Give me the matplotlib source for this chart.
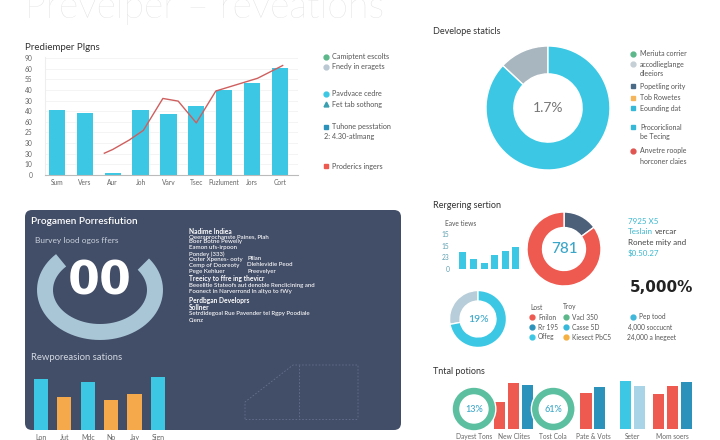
import matplotlib
matplotlib.use('Agg')
import matplotlib.pyplot as plt
import numpy as np
from matplotlib.patches import FancyBboxPatch

plt.rcParams['font.family'] = ['Lato', 'DejaVu Sans']

# ---- data ----
title_main = 'Prevelper \u2013 reveations'

c1_cats = ['Sum', 'Vers', 'Aur', 'Joh', 'Varv', 'Tsec', 'Puzlument', 'Jors', 'Cort']
c1_bars = [61, 58, 1.5, 61, 57, 65, 79.5, 87, 100.5]
c1_line_x = [1.7, 2.0, 2.6, 3.1, 3.8, 4.35, 5.0, 5.7, 7.2, 8.1]
c1_line_y = [20.5, 24, 33, 42, 72, 69.5, 49, 79, 91, 103]
c1_yticks = [0, 10, 20, 30, 40, 50, 60, 70, 80, 90, 100, 110]
c1_ylabels = ['0', '10', '30', '30', '25', '60', '40', '30', '40', '55', '60', '90']

dev_vals = [13, 87]
dev_label = '1.7%'

gauge_label = '00'
gauge_span = (38, 135)  # open gap at the top, degrees
prog_cats = ['Lon', 'Jut', 'Mdc', 'No', 'Jay', 'Sign']
prog_vals = [51, 33, 48, 30, 36, 53]

eave_vals = [14.5, 8.5, 5, 12, 15.5, 19]
eave_ticks = [0, 10, 20, 30]
eave_labels = ['0', '23', '15', '15']

reg_vals = [15, 85]
reg_label = '781'
small_vals = [28, 72]
small_label = '19%'

tp_cats = ['Dayest Tons', 'New Clites', 'Tost Cola', 'Pate & Vots', 'Seter', 'Mom soers']
tp_donut_idx = [0, 2]
tp_donut_labels = ['13%', '61%']
tp_bar_idx = [1, 3, 4, 5]
tp_bar_vals = [[27, 46, 44], [36, 42], [48, 43], [35, 43, 47]]

# ---- colours ----
CYAN = '#3cc8e4'
ORANGE = '#f6a94a'
RED = '#ee5a50'
TEAL = '#2b93bb'
LIGHTB = '#a9d3e6'
GREEN = '#5cbf9f'
SLATE = '#4d607a'
GREYB = '#a8b6bf'
PANEL = '#424d67'
TXT = '#555555'

W, H = 720, 440
fig = plt.figure(figsize=(7.2, 4.4), dpi=100)


def ax_px(x0, y0, x1, y1):
    return fig.add_axes([x0 / W, 1 - y1 / H, (x1 - x0) / W, (y1 - y0) / H])


# background overlay in pixel coordinates
bg = fig.add_axes([0, 0, 1, 1])
bg.set_xlim(0, W)
bg.set_ylim(H, 0)
bg.axis('off')

bg.text(25, 18, title_main, fontsize=27, fontweight='light', color='#dcdcdc', va='baseline')

# dark panel
bg.add_patch(FancyBboxPatch((25, 210), 376, 220, boxstyle='round,pad=0,rounding_size=7',
                            facecolor=PANEL, edgecolor='none'))
for xs, ys in [([245, 245, 293, 358, 358], [419, 402, 365, 365, 419]),
               ([299, 299], [365, 419]), ([245, 358], [419, 419])]:
    bg.plot(xs, ys, ls=(0, (2, 2)), lw=0.6, color='#65728f')

# ---- chart 1 ----
bg.text(25, 48, 'Prediemper Plgns', fontsize=7, color='#333333', va='center')
ax1 = ax_px(45, 57, 298, 175)
x1 = np.arange(len(c1_cats))
ax1.bar(x1, c1_bars, width=0.58, color=CYAN, zorder=2)
ax1.plot(c1_line_x, c1_line_y, color='#cf5f5e', lw=1, zorder=3)
ax1.set_xlim(-0.43, 8.65)
ax1.set_ylim(0, 111)
ax1.set_yticks(c1_yticks)
ax1.set_yticklabels(c1_ylabels)
ax1.set_xticks(x1)
ax1.set_xticklabels(c1_cats)
ax1.tick_params(length=0, labelsize=4.8, colors='#666666', pad=3)
ax1.tick_params(axis='y', pad=9)
for s in ['top', 'right']:
    ax1.spines[s].set_visible(False)
ax1.spines['left'].set_color('#eeeeee')
ax1.spines['bottom'].set_color('#bbbbbb')
ax1.grid(axis='y', color='#f2f2f2', lw=0.6, zorder=0)

leg1 = [('o', '#5cb88a', 'Camiptent escolts', 57), ('o', '#b9c8d3', 'Fnedy in eragets', 67),
        ('o', CYAN, 'Pavdvace cedre', 94), ('^', '#3a9fb0', 'Fet tab sothong', 104),
        ('s', TEAL, 'Tuhone pesstation', 127), (None, None, '2: 4.30-atlmang', 137),
        ('s', RED, 'Proderics ingers', 166)]
for m, c, t, y in leg1:
    if m:
        bg.plot(326, y, marker=m, ms=3.5, color=c, ls='none')
        bg.text(332, y, t, fontsize=5.2, color=TXT, va='center')
    else:
        bg.text(324, y, t, fontsize=5.2, color=TXT, va='center')


# ---- donut helper ----
def donut(cx, cy, r, vals, colors, width, label, lcolor, lsize, counterclock=True, weight='normal'):
    ax = ax_px(cx - r * 1.05, cy - r * 1.05, cx + r * 1.05, cy + r * 1.05)
    ax.pie(vals, colors=colors, radius=1, startangle=90, counterclock=counterclock,
           wedgeprops=dict(width=width, edgecolor='white', linewidth=1))
    ax.set_xlim(-1.05, 1.05)
    ax.set_ylim(-1.05, 1.05)
    ax.set_aspect('equal')
    ax.axis('off')
    ax.text(0, 0, label, ha='center', va='center', fontsize=lsize, color=lcolor, fontweight=weight)
    return ax


# ---- chart 2 ----
bg.text(433, 32, 'Develope staticls', fontsize=6.5, color='#333333', va='center')
donut(548, 108, 62, dev_vals, [GREYB, CYAN], 0.45, dev_label, '#777777', 10)
leg2 = [('o', '#5cb88a', 'Meriuta corrier', 54), ('o', '#c5d0d6', 'accodlieglange\ndleeiors', 64),
        ('s', '#4a6a85', 'Popetling ority', 86), ('s', '#f5b55a', 'Tob Rowetes', 98),
        ('s', '#36b8d8', 'Eounding dat', 108), ('s', '#36b8d8', 'Procoriclional\nbe Tecing', 127),
        ('o', '#e05550', 'Anvetre roople\nhorconer claies', 151)]
for m, c, t, y in leg2:
    bg.plot(633, y, marker=m, ms=3.5, color=c, ls='none')
    bg.text(640, y - 3.5, t, fontsize=5, color=TXT, va='top', linespacing=1.5)

# ---- dark panel contents ----
bg.text(31, 221, 'Progamen Porresfiution', fontsize=7.3, color='white', fontweight='semibold', va='center')
bg.text(35, 241, 'Burvey lood ogos ffers', fontsize=6, color='#c9d1dc', va='center')
bg.text(31, 358, 'Rewporeasion sations', fontsize=6.8, color='#d3d9e2', va='center')

# gauge: axes in pixel units around its centre
gax = ax_px(30, 220, 170, 360)
gax.set_xlim(-70, 70)
gax.set_ylim(-70, 70)
gax.patch.set_alpha(0)
gax.axis('off')
th = np.radians(np.linspace(gauge_span[1], gauge_span[0] + 360, 200))
gax.plot(55 * np.cos(th), 42 * np.sin(th), color='#a9c6d6', lw=11.5, solid_capstyle='butt')
gax.text(0, 8, gauge_label, ha='center', va='center', fontsize=33, fontweight='bold',
         color='white', family='DejaVu Sans')

block = [
    ('Nadime Indiea', 231, True, 189), ('Qeeraprochanste Paines, Plah', 237, False, 189),
    ('Boer Botne Pewelly', 242, False, 189), ('Eamon ufs-irpoon', 248, False, 189),
    ('Pondey (333)', 254, False, 189), ('Ooter Xpenes- ooty', 259, False, 189),
    ('Plllan', 259, False, 247), ('Cemp of Dooreoty', 265, False, 189),
    ('Dlehlevidie Peod', 265, False, 247), ('Pege Kehluer', 271, False, 189),
    ('Preevelyer', 271, False, 247), ('Treeicy to ffre ing thevicr', 279, True, 189),
    ('Beeelitle Stateofs aut denoble Renclicining and', 286, False, 189),
    ('Foonect in Narverrond In altyo to fWy', 292, False, 189),
    ('Perdbgan Developrs', 301, True, 189), ('Sollner', 307, True, 189),
    ('Setrdidegoal Rue Pavender tel Rgpy Poodiale', 314, False, 189), ('Cienz', 320, False, 189)]
for t, y, b, x in block:
    bg.text(x, y, t, fontsize=4.8 if b else 4.4, color='white', va='center',
            fontweight='bold' if b else 'medium')

pax = ax_px(25, 370, 171, 430)
pax.patch.set_alpha(0)
xp = np.arange(len(prog_cats))
pax.bar(xp, prog_vals, width=0.6, color=[CYAN, ORANGE, CYAN, ORANGE, ORANGE, CYAN])
pax.set_xlim(-0.68, 5.56)
pax.set_ylim(0, 60)
pax.set_xticks(xp)
pax.set_xticklabels(prog_cats)
pax.set_yticks([])
pax.tick_params(length=0, labelsize=5, colors='#666666', pad=3)
for s in pax.spines.values():
    s.set_visible(False)

# ---- chart 3 ----
bg.text(433, 205, 'Rergering sertion', fontsize=6.5, color='#333333', va='center')
bg.text(445, 224, 'Eave tiews', fontsize=4.8, color=TXT, va='center')
eax = ax_px(455, 231.6, 522, 269)
xe = np.arange(len(eave_vals))
eax.bar(xe, eave_vals, width=0.66, color=CYAN)
eax.set_xlim(-0.75, 5.57)
eax.set_ylim(0, 32)
eax.set_yticks(eave_ticks)
eax.set_yticklabels(eave_labels)
eax.set_xticks([])
eax.tick_params(length=0, labelsize=4.8, colors='#5e9fb0', pad=4)
for s in eax.spines.values():
    s.set_visible(False)

donut(564, 249, 37, reg_vals, [SLATE, RED], 0.42, reg_label, '#3aa6c8', 11,
      counterclock=False, weight='medium')
donut(478, 319, 28.5, small_vals, ['#b7cdd9', CYAN], 0.37, small_label, '#3aa6c8', 7.5, weight='medium')

bg.text(628, 222, '7925 X5', fontsize=5.8, color='#3bb8cf', va='center')
bg.text(628, 232, 'Teslain', fontsize=5.8, color='#3bb8cf', va='center')
bg.text(655, 232, 'vercar', fontsize=5.8, color='#444444', va='center')
bg.text(628, 243, 'Ronete mity and', fontsize=5.8, color='#444444', va='center')
bg.text(628, 253, '$0.50.27', fontsize=5.8, color='#3bb8cf', va='center')
bg.text(630, 287, '5,000%', fontsize=11, color='#222222', fontweight='bold', va='center',
        family='DejaVu Sans')

bg.text(530, 307, 'Lost', fontsize=4.8, color=TXT, va='center')
bg.text(563, 307, 'Troy', fontsize=4.8, color=TXT, va='center')
leg3 = [(532, RED, 'Fnilon', 317), (532, TEAL, 'Rr 195', 327), (532, CYAN, 'Offeg', 337),
        (566, '#5cb88a', 'Vacl 350', 317), (566, '#35b8da', 'Casse 5D', 327),
        (566, '#f5b041', 'Kiesect PbC5', 337), (633, '#3fb8da', 'Pep tood', 317)]
for x, c, t, y in leg3:
    bg.plot(x, y, marker='o', ms=3.5, color=c, ls='none')
    bg.text(x + 6, y, t, fontsize=4.8, color=TXT, va='center')
bg.text(628, 327, '4,000 soccucnt', fontsize=4.8, color=TXT, va='center')
bg.text(627, 337, '24,000 a lnegeet', fontsize=4.8, color=TXT, va='center')

# ---- chart 4 ----
bg.text(433, 371, 'Tntal potions', fontsize=6.5, color='#333333', va='center')
tax = ax_px(447, 379, 692, 429)
tax.patch.set_alpha(0)
tax.set_xlim(-0.68, 5.5)
tax.set_ylim(0, 50)
tp_colors = [[RED, RED, TEAL], [RED, TEAL], [CYAN, LIGHTB], [RED, RED, TEAL]]
for i, vals, cols in zip(tp_bar_idx, tp_bar_vals, tp_colors):
    n = len(vals)
    offs = (np.arange(n) - (n - 1) / 2) * 0.35
    tax.bar(i + offs, vals, width=0.28, color=cols)
for i, lab in zip(tp_donut_idx, tp_donut_labels):
    iax = tax.inset_axes([i - 0.59, -3, 1.18, 46], transform=tax.transData)
    iax.pie([1], colors=[GREEN], radius=1, startangle=90,
            wedgeprops=dict(width=0.36, edgecolor='white', linewidth=1))
    iax.set_xlim(-1.05, 1.05)
    iax.set_ylim(-1.05, 1.05)
    iax.set_aspect('equal')
    iax.axis('off')
    iax.text(0, 0, lab, ha='center', va='center', fontsize=6.5, color='#3aa6c8', fontweight='medium')
tax.set_xticks(range(len(tp_cats)))
tax.set_xticklabels(tp_cats)
tax.set_yticks([])
tax.tick_params(length=0, labelsize=4.8, colors='#666666', pad=3)
for s in tax.spines.values():
    s.set_visible(False)

fig.savefig('out.png', dpi=100, facecolor='white')
